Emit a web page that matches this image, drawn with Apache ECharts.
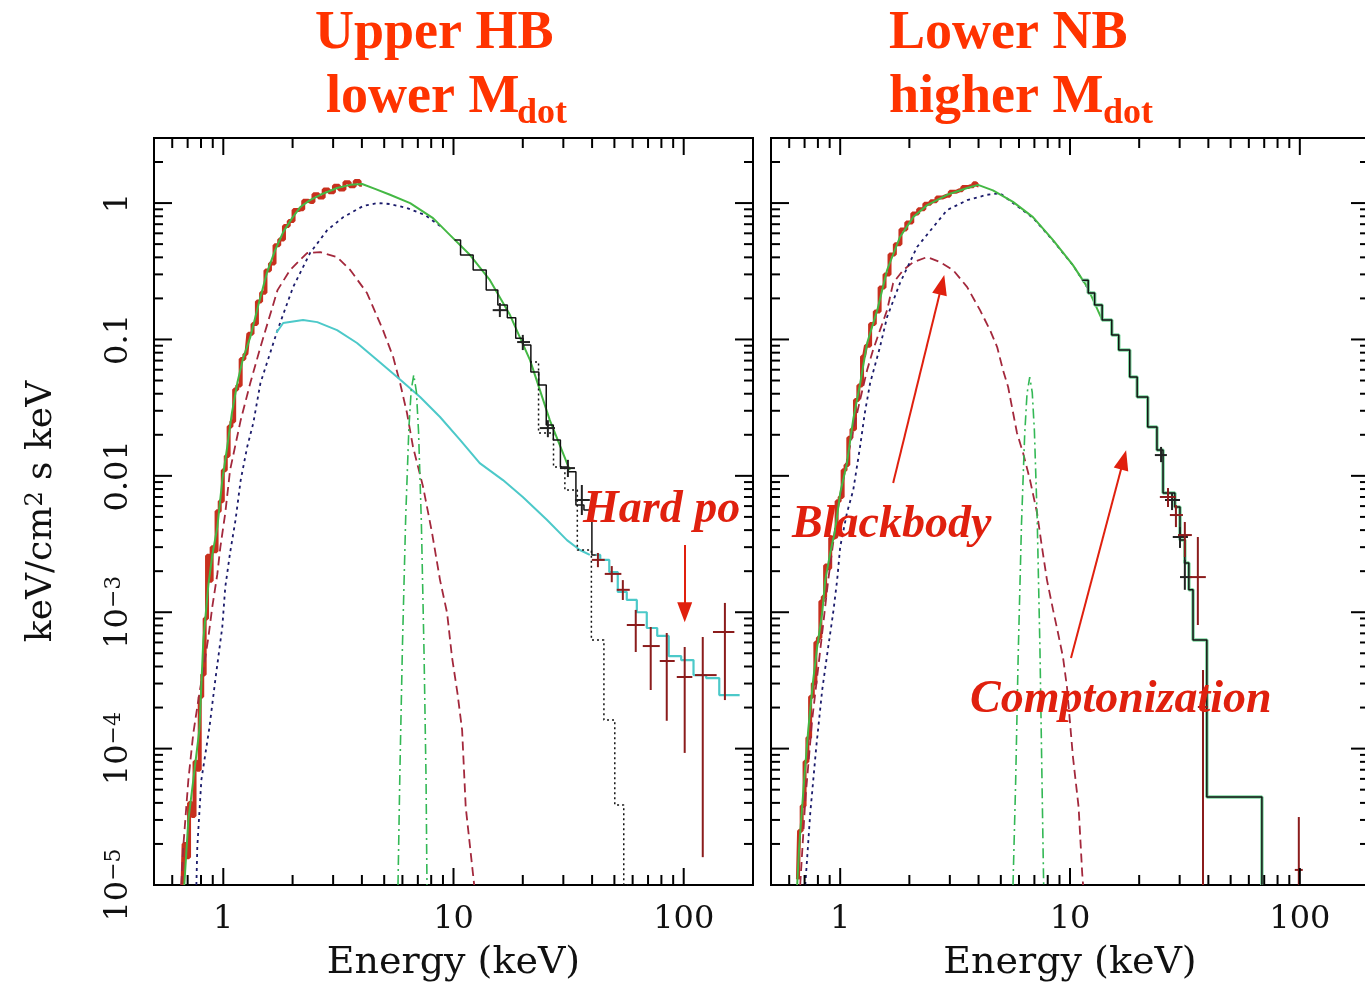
<!DOCTYPE html>
<html>
<head>
<meta charset="utf-8">
<script src="https://cdn.jsdelivr.net/npm/echarts@6/dist/echarts.min.js"></script>
<style>
  html, body { margin: 0; padding: 0; background: #ffffff; }
  #chart { width: 1365px; height: 982px; }
</style>
</head>
<body>
<div id="chart"></div>
<script>
// ---------------- axis ranges and ticks ----------------
const E_MIN = 0.5, E_MAX = 200;
const FLUX_MIN = 1e-5, FLUX_MAX = 3;

const energyTicks = [1, 10, 100];
const energyTickLabels = ['1', '10', '100'];
const energyMinorTicks = [0.6, 0.7, 0.8, 0.9, 2, 3, 4, 5, 6, 7, 8, 9,
  20, 30, 40, 50, 60, 70, 80, 90];

const fluxTicks = [1e-5, 1e-4, 1e-3, 0.01, 0.1, 1];
const fluxTickLabels = ['10^-5', '10^-4', '10^-3', '0.01', '0.1', '1'];
const fluxMinorTicks = [
  2e-5, 3e-5, 4e-5, 5e-5, 6e-5, 7e-5, 8e-5, 9e-5,
  2e-4, 3e-4, 4e-4, 5e-4, 6e-4, 7e-4, 8e-4, 9e-4,
  2e-3, 3e-3, 4e-3, 5e-3, 6e-3, 7e-3, 8e-3, 9e-3,
  0.02, 0.03, 0.04, 0.05, 0.06, 0.07, 0.08, 0.09,
  0.2, 0.3, 0.4, 0.5, 0.6, 0.7, 0.8, 0.9, 2];

// ---------------- Upper HB (lower Mdot) spectrum ----------------
const hbData = [[0.665,1.0e-5],[0.68,2.0e-5],[0.70,1.6e-5],[0.72,4.0e-5],[0.74,3.2e-5],[0.76,8.0e-5],
  [0.78,7.0e-5],[0.80,2.4e-4],[0.82,3.5e-4],[0.84,9.0e-4],[0.86,2.6e-3],[0.88,1.7e-3],[0.90,3.0e-3],
  [0.92,2.8e-3],[0.95,5.5e-3],[0.98,6.5e-3],[1.01,1.1e-2],[1.04,1.4e-2],[1.07,2.3e-2],[1.10,2.5e-2],
  [1.13,4.3e-2],[1.17,4.6e-2],[1.21,7.2e-2],[1.26,7.8e-2],[1.31,0.11],[1.37,0.13],[1.43,0.19],
  [1.49,0.22],[1.56,0.32],[1.63,0.36],[1.71,0.49],[1.79,0.54],[1.88,0.68],[1.97,0.74],[2.07,0.89],
  [2.17,0.90],[2.28,1.04],[2.40,1.02],[2.53,1.16],[2.66,1.10],[2.80,1.26],[2.95,1.20],[3.10,1.34],
  [3.27,1.26],[3.45,1.42],[3.63,1.33],[3.82,1.45],[4.0,1.36]];

const hbTotal = [[0.677,1.0e-5],[0.705,3.0e-5],[0.741,5.9e-5],[0.787,1.37e-4],[0.819,6.25e-4],
  [0.861,1.58e-3],[0.896,2.63e-3],[0.942,4.21e-3],[0.990,9.3e-3],[1.04,0.0163],[1.09,0.0289],
  [1.15,0.0479],[1.22,0.0731],[1.31,0.104],[1.42,0.179],[1.55,0.312],[1.68,0.452],[1.82,0.612],
  [1.99,0.776],[2.16,0.935],[2.38,1.05],[2.64,1.15],[3.12,1.29],[3.56,1.36],[4.01,1.38],[4.56,1.27],
  [5.30,1.15],[6.48,1.00],[8.15,0.776],[9.66,0.582],[11.8,0.416],[14.4,0.272],[17.6,0.151],
  [21.5,0.0706],[26.2,0.0256],[32.0,0.0110]];

const hbStep = [[10.1,0.535],[11.4,0.416],[13.0,0.323],[14.8,0.230],[16.4,0.179],[17.9,0.144],
  [19.4,0.102],[20.8,0.0910],[22.6,0.0577],[24.4,0.0463],[26.2,0.0236],[28.1,0.0183],[30.2,0.0116],
  [32.7,0.0107],[35.4,6.11e-3],[38.4,5.61e-3],[41.5,2.63e-3]];

const hbHardStep = [[41.5,2.63e-3],[45.4,2.42e-3],[49.7,1.97e-3],[53.8,1.41e-3],[59.5,1.23e-3],
  [65.8,1.00e-3],[72.6,7.66e-4],[81.1,6.70e-4],[91.4,4.77e-4],[104,4.46e-4],[117,3.46e-4],
  [134,3.29e-4],[152,2.47e-4],[175,2.47e-4]];

const hbComptFolded = [[21.5,0.0683],[25.5,0.0206],[29.0,0.0116],[32.0,7.87e-3],[37.2,2.86e-3],
  [42.4,6.25e-4],[47.8,1.62e-4],[52.7,3.86e-5],[57.2,1.0e-5]];

const hbComptt = [[0.764,1e-5],[0.771,1.9e-5],[0.803,5.89e-5],[0.869,1.4e-4],[0.923,3.18e-4],
  [0.990,7.79e-4],[1.02,1.53e-3],[1.07,2.72e-3],[1.13,4.74e-3],[1.19,9.31e-3],[1.27,0.0163],
  [1.35,0.0244],[1.45,0.0479],[1.72,0.117],[2.01,0.242],[2.38,0.430],[2.83,0.634],[3.32,0.789],
  [4.05,0.951],[4.66,1.00],[5.30,0.984],[6.28,0.919],[7.52,0.817],[8.74,0.68]];

const hbBbody = [[0.657,1e-5],[0.670,1.9e-5],[0.705,5.89e-5],[0.741,1.3e-4],[0.78,2.3e-4],
  [0.819,3.8e-4],[0.861,6.5e-4],[0.896,1.1e-3],[0.942,1.9e-3],[0.971,3.0e-3],[1.02,5.34e-3],
  [1.07,0.0110],[1.19,0.0256],[1.31,0.0479],[1.45,0.0880],[1.72,0.230],[1.95,0.323],[2.31,0.430],
  [2.64,0.437],[3.12,0.402],[3.56,0.323],[4.21,0.219],[4.94,0.117],[5.47,0.0743],[5.86,0.0479],
  [6.28,0.0289],[6.67,0.0163],[7.38,8.28e-3],[8.07,3.81e-3],[8.74,1.72e-3],[9.38,9.87e-4],
  [9.85,4.69e-4],[10.4,2.56e-4],[10.9,1.37e-4],[11.3,3.73e-5],[12.3,1e-5]];

const hbPowerlaw = [[1.70,0.112],[1.82,0.132],[2.22,0.139],[2.56,0.134],[3.12,0.117],[3.81,0.0942],
  [4.66,0.0706],[5.69,0.0530],[7.16,0.0378],[8.74,0.0270],[10.7,0.0183],[13.0,0.0124],[16.4,9.31e-3],
  [20.0,7.00e-3],[25.5,4.74e-3],[31.1,3.38e-3],[35.4,2.86e-3],[39.1,2.63e-3]];

const hbGauss = [[5.74,1e-5],[5.85,6.8e-5],[6.0,5.6e-4],[6.2,5.0e-3],[6.4,0.0224],[6.55,0.0426],
  [6.72,0.055],[6.9,0.0413],[7.05,0.021],[7.25,4.6e-3],[7.45,4.9e-4],[7.6,5.9e-5],[7.67,1e-5]];

// error crosses: [E, flux, E low, E high, flux low, flux high]
const hbHardPoints = [[42.4,2.42e-3,39.9,45.4,2.14e-3,2.72e-3],[48.7,1.91e-3,45.4,53.6,1.66e-3,2.18e-3],
  [54.4,1.46e-3,51.2,58.3,1.23e-3,1.72e-3],[61.9,8.06e-4,56.6,67.7,5.11e-4,1.04e-3],
  [71.9,5.65e-4,66.4,78.7,2.69e-4,7.79e-4],[84.4,4.39e-4,78.7,91.4,1.6e-4,7.04e-4],
  [101,3.35e-4,93.3,109,9.3e-5,5.56e-4],[121,3.46e-4,112,139,1.6e-5,6.58e-4],
  [151,7.16e-4,134,166,2.27e-4,1.17e-3]];

const hbMidPoints = [[15.9,0.164,14.8,17.1,0.146,0.185],[20.0,0.0957,18.9,21.5,0.0836,0.108],
  [25.7,0.0224,23.7,27.6,0.0192,0.0256],[31.4,0.0114,29.0,33.7,9.8e-3,0.0131],
  [36.1,6.65e-3,33.7,39.1,5.16e-3,8.57e-3]];

// ---------------- Lower NB (higher Mdot) spectrum ----------------
const nbData = [[0.655,1.1e-5],[0.67,2.5e-5],[0.69,3.8e-5],[0.71,8e-5],[0.73,1.2e-4],[0.75,2.4e-4],
  [0.77,3.0e-4],[0.79,6.0e-4],[0.81,6.5e-4],[0.83,1.2e-3],[0.85,1.3e-3],[0.87,2.2e-3],[0.89,2.1e-3],
  [0.92,3.5e-3],[0.95,3.6e-3],[0.98,6.5e-3],[1.01,7.0e-3],[1.04,1.1e-2],[1.07,1.2e-2],[1.10,1.9e-2],
  [1.14,2.2e-2],[1.18,3.6e-2],[1.22,4.6e-2],[1.27,7.5e-2],[1.32,9.0e-2],[1.38,0.13],[1.45,0.16],
  [1.52,0.24],[1.60,0.30],[1.68,0.42],[1.78,0.50],[1.88,0.64],[2.0,0.72],[2.12,0.84],[2.25,0.90],
  [2.4,0.99],[2.55,1.03],[2.7,1.10],[2.9,1.13],[3.1,1.21],[3.3,1.24],[3.5,1.31],[3.7,1.33],
  [3.9,1.40],[4.0,1.35]];

const nbTotal = [[0.650,1e-5],[0.663,1.9e-5],[0.697,5.89e-5],[0.726,1.37e-4],[0.763,3.18e-4],
  [0.794,5.56e-4],[0.835,9.87e-4],[0.861,1.72e-3],[0.905,2.72e-3],[0.951,4.01e-3],[1.0,7.48e-3],
  [1.07,0.0124],[1.14,0.026],[1.22,0.047],[1.31,0.0942],[1.45,0.164],[1.60,0.323],[1.82,0.564],
  [2.08,0.789],[2.39,0.966],[2.92,1.15],[3.57,1.29],[3.98,1.36],[4.62,1.24],[5.65,1.02],[6.90,0.789],
  [8.44,0.535],[10.3,0.351],[11.9,0.242],[13.8,0.139]];

// histogram bins: [left edge, level]
const nbStep = [[11.3,0.272],[12.0,0.219],[12.8,0.179],[13.8,0.139],[15.2,0.108],[16.3,0.0836],
  [18.2,0.0530],[19.6,0.0378],[21.8,0.0228],[23.9,0.0155],[25.4,7.48e-3],[28.6,5.91e-3],
  [30.1,3.38e-3],[31.6,2.30e-3],[32.9,1.46e-3],[34.3,6.25e-4],[39.4,4.42e-5],[68.4,1e-5]];

const nbComptt = [[0.705,1e-5],[0.741,3.37e-5],[0.787,1.03e-4],[0.835,2.69e-4],[0.887,5.56e-4],
  [0.932,9.87e-4],[0.970,1.72e-3],[1.0,3.01e-3],[1.07,5.34e-3],[1.14,7.87e-3],[1.22,0.0163],
  [1.28,0.0289],[1.35,0.0479],[1.49,0.0880],[1.60,0.146],[1.82,0.259],[2.16,0.476],[2.54,0.667],
  [2.92,0.889],[3.57,1.05],[4.35,1.15],[4.96,1.18],[5.65,1.0],[6.90,0.78],[8.44,0.53],[10.3,0.35],
  [11.9,0.24]];

const nbBbody = [[0.670,1e-5],[0.705,4.2e-5],[0.755,1.62e-4],[0.819,5.28e-4],[0.887,1.72e-3],
  [0.970,5.34e-3],[1.05,0.0110],[1.14,0.0217],[1.22,0.0359],[1.31,0.0597],[1.39,0.0836],
  [1.49,0.117],[1.60,0.164],[1.70,0.259],[1.88,0.323],[2.08,0.369],[2.39,0.402],[2.72,0.369],
  [3.10,0.323],[3.57,0.242],[4.06,0.164],[4.49,0.117],[4.82,0.0880],[5.11,0.0597],[5.38,0.0448],
  [5.88,0.0206],[6.25,0.0147],[6.70,9.31e-3],[7.19,5.34e-3],[7.55,3.01e-3],[7.94,1.72e-3],
  [8.44,1.04e-3],[8.87,7.04e-4],[9.32,4.69e-4],[9.70,2.83e-4],[10.3,8.68e-5],[10.9,3.73e-5],
  [11.3,1.22e-5],[11.4,1e-5]];

const nbGauss = [[5.65,1e-5],[5.8,5.6e-5],[5.95,4.8e-4],[6.15,4.4e-3],[6.35,0.020],[6.5,0.040],
  [6.68,0.053],[6.85,0.041],[7.0,0.0214],[7.2,4.8e-3],[7.4,5.4e-4],[7.6,3.0e-5],[7.68,1e-5]];

const nbHardPoints = [[26.7,7.0e-3,24.6,28.9,5.91e-3,8.14e-3],[28.9,5.16e-3,27.2,31.0,4.21e-3,6.11e-3],
  [31.6,3.68e-3,29.5,33.9,2.54e-3,4.59e-3],[36.0,1.81e-3,33.2,39.0,8.06e-4,3.56e-3],
  [37.9,2.02e-4,36.0,39.8,1e-5,3.77e-4],[99.0,1.29e-5,95.1,103,1e-5,3.15e-5]];

const nbMidPoints = [[24.9,0.0142,23.4,26.4,0.0126,0.0163],[27.8,6.65e-3,25.9,30.1,5.61e-3,7.48e-3],
  [30.1,3.56e-3,28.0,32.6,2.96e-3,4.21e-3],[31.6,1.81e-3,30.1,33.9,1.46e-3,2.42e-3]];

// annotation arrows: [start, end] in (E, flux)
const hardArrow = [[101, 3.11e-3], [101, 1.0e-3]];
const bbodyArrow = [[1.70, 8.85e-3], [2.77, 0.252]];
const comptArrow = [[10.1, 4.61e-4], [17.1, 0.0131]];

// ---------------- styling ----------------
const TITLE_COLOR = '#ff3300';
const NOTE_COLOR = '#e0200e';
const SERIF = '"DejaVu Serif", serif';
const TIMES = '"Liberation Serif", "Times New Roman", serif';

function curve(data, grid, color, width, type, z, step) {
  return {
    type: 'line', xAxisIndex: grid, yAxisIndex: grid, data: data,
    symbol: 'none', showSymbol: false, silent: true, animation: false,
    step: step || false, z: z,
    lineStyle: { color: color, width: width, type: type }
  };
}

function renderCross(params, api) {
  const c = api.coord([api.value(0), api.value(1)]);
  const l = api.coord([api.value(2), api.value(1)]);
  const r = api.coord([api.value(3), api.value(1)]);
  const b = api.coord([api.value(0), api.value(4)]);
  const t = api.coord([api.value(0), api.value(5)]);
  const st = { stroke: api.visual('color'), lineWidth: 2 };
  return { type: 'group', children: [
    { type: 'line', shape: { x1: l[0], y1: c[1], x2: r[0], y2: c[1] }, style: st },
    { type: 'line', shape: { x1: c[0], y1: t[1], x2: c[0], y2: b[1] }, style: st }
  ]};
}

function crosses(data, grid, color, z) {
  return {
    type: 'custom', xAxisIndex: grid, yAxisIndex: grid, data: data,
    renderItem: renderCross, itemStyle: { color: color },
    encode: { x: 0, y: 1 }, silent: true, animation: false, z: z
  };
}

function renderXTick(params, api) {
  const v = api.value(0);
  const len = api.value(2) ? 17 : 10;
  const b = api.coord([v, FLUX_MIN]);
  const t = api.coord([v, FLUX_MAX]);
  const st = { stroke: '#000', lineWidth: 2 };
  return { type: 'group', children: [
    { type: 'line', shape: { x1: b[0], y1: b[1], x2: b[0], y2: b[1] - len }, style: st },
    { type: 'line', shape: { x1: t[0], y1: t[1], x2: t[0], y2: t[1] + len }, style: st }
  ]};
}

function renderYTick(params, api) {
  const v = api.value(1);
  const len = api.value(2) ? 18 : 9;
  const l = api.coord([E_MIN, v]);
  const r = api.coord([E_MAX, v]);
  const st = { stroke: '#000', lineWidth: 2 };
  return { type: 'group', children: [
    { type: 'line', shape: { x1: l[0], y1: l[1], x2: l[0] + len, y2: l[1] }, style: st },
    { type: 'line', shape: { x1: r[0], y1: r[1], x2: r[0] - len, y2: r[1] }, style: st }
  ]};
}

function tickSeries(grid) {
  const xItems = energyTicks.map(v => [v, FLUX_MIN, 1])
    .concat(energyMinorTicks.map(v => [v, FLUX_MIN, 0]));
  const yItems = fluxTicks.map(v => [E_MIN, v, 1])
    .concat(fluxMinorTicks.map(v => [E_MIN, v, 0]));
  return [
    { type: 'custom', xAxisIndex: grid, yAxisIndex: grid, data: xItems, renderItem: renderXTick,
      encode: { x: 0, y: 1 }, silent: true, animation: false, z: 10 },
    { type: 'custom', xAxisIndex: grid, yAxisIndex: grid, data: yItems, renderItem: renderYTick,
      encode: { x: 0, y: 1 }, silent: true, animation: false, z: 10 }
  ];
}

function arrow(seg) {
  return {
    silent: true, animation: false,
    symbol: ['none', 'triangle'], symbolSize: [15, 20],
    label: { show: false },
    lineStyle: { color: NOTE_COLOR, width: 2, type: 'solid' },
    itemStyle: { color: NOTE_COLOR },
    emphasis: { disabled: true },
    data: [[{ coord: seg[0] }, { coord: seg[1] }]]
  };
}

function energyLabel(v) {
  const e = Math.log10(v);
  const i = energyTicks.findIndex(t => Math.abs(Math.log10(t) - e) < 1e-6);
  return i >= 0 ? energyTickLabels[i] : '';
}

function fluxLabel(v) {
  const e = Math.log10(v);
  const i = fluxTicks.findIndex(t => Math.abs(Math.log10(t) - e) < 1e-6);
  if (i < 0) return '';
  const s = fluxTickLabels[i];
  if (s.indexOf('^') >= 0) {
    const parts = s.split('^');
    return '{b|' + parts[0] + '}{s|' + parts[1].replace('-', '\u2212') + '}';
  }
  return '{b|' + s + '}';
}

function xAxisFor(grid) {
  return {
    type: 'log', logBase: 10, gridIndex: grid, min: E_MIN, max: E_MAX,
    axisLine: { show: false }, axisTick: { show: false }, splitLine: { show: false },
    minorTick: { show: false },
    axisLabel: { formatter: energyLabel, fontFamily: SERIF, fontSize: 32, color: '#111', margin: 19 },
    name: 'Energy (keV)', nameLocation: 'middle', nameGap: 59,
    nameTextStyle: { fontFamily: SERIF, fontSize: 38, color: '#111' }
  };
}

function yAxisFor(grid, labelled) {
  return {
    type: 'log', logBase: 10, gridIndex: grid, min: FLUX_MIN, max: FLUX_MAX,
    axisLine: { show: false }, axisTick: { show: false }, splitLine: { show: false },
    minorTick: { show: false },
    axisLabel: {
      show: labelled, formatter: fluxLabel, rotate: 90, margin: 19, color: '#111',
      rich: {
        b: { fontFamily: SERIF, fontSize: 32, color: '#111' },
        s: { fontFamily: SERIF, fontSize: 22, color: '#111', verticalAlign: 'top' }
      }
    },
    name: labelled ? '{a|keV/cm}{s|2}{a| s keV}' : '',
    nameLocation: 'middle', nameGap: 94,
    nameTextStyle: {
      rich: {
        a: { fontFamily: SERIF, fontSize: 36, color: '#111' },
        s: { fontFamily: SERIF, fontSize: 24, color: '#111', verticalAlign: 'top' }
      }
    }
  };
}

const option = {
  backgroundColor: '#ffffff',
  animation: false,
  grid: [
    { left: 154, top: 138, width: 599, height: 747, show: true, borderColor: '#000', borderWidth: 2,
      backgroundColor: 'transparent', containLabel: false, outerBoundsMode: 'none' },
    { left: 771, top: 138, width: 598, height: 747, show: true, borderColor: '#000', borderWidth: 2,
      backgroundColor: 'transparent', containLabel: false, outerBoundsMode: 'none' }
  ],
  xAxis: [xAxisFor(0), xAxisFor(1)],
  yAxis: [yAxisFor(0, true), yAxisFor(1, false)],
  series: [
    // Upper HB
    curve(hbData, 0, '#c8301e', 4, 'solid', 2, 'middle'),
    curve(hbBbody, 0, '#a3283c', 1.8, [9, 5], 3),
    curve(hbComptt, 0, '#1b1b6b', 1.8, [3, 4], 3),
    curve(hbPowerlaw, 0, '#4cc9c9', 2, 'solid', 3),
    curve(hbGauss, 0, '#33b855', 1.6, [10, 4, 2, 4], 3),
    curve(hbTotal, 0, '#44b844', 2, 'solid', 4),
    curve(hbHardStep, 0, '#4cc9c9', 2.2, 'solid', 4, 'middle'),
    Object.assign(curve(hbStep, 0, '#111111', 1.5, 'solid', 5, 'middle'), { markLine: arrow(hardArrow) }),
    curve(hbComptFolded, 0, '#111111', 1.5, [2, 3], 5, 'middle'),
    crosses(hbMidPoints, 0, '#222222', 6),
    crosses(hbHardPoints, 0, '#8b1c1c', 6),
    // Lower NB
    curve(nbData, 1, '#c8301e', 4, 'solid', 2, 'middle'),
    Object.assign(curve(nbBbody, 1, '#a3283c', 1.8, [9, 5], 3), { markLine: arrow(bbodyArrow) }),
    curve(nbComptt, 1, '#1b1b6b', 1.8, [3, 4], 3),
    curve(nbGauss, 1, '#33b855', 1.6, [10, 4, 2, 4], 3),
    curve(nbTotal, 1, '#44b844', 2, 'solid', 4),
    curve(nbStep, 1, '#7fd6a0', 3.5, 'solid', 4, 'end'),
    Object.assign(curve(nbStep, 1, '#111111', 1.5, 'solid', 5, 'end'), { markLine: arrow(comptArrow) }),
    crosses(nbMidPoints, 1, '#222222', 6),
    crosses(nbHardPoints, 1, '#8b1c1c', 6)
  ].concat(tickSeries(0), tickSeries(1)),
  graphic: [
    { type: 'text', x: 315, y: 34, silent: true,
      style: { text: 'Upper HB', fontFamily: TIMES, fontWeight: 'bold', fontSize: 54, fill: TITLE_COLOR, align: 'left', verticalAlign: 'middle' } },
    { type: 'text', x: 326, y: 98, silent: true,
      style: { text: 'lower M', fontFamily: TIMES, fontWeight: 'bold', fontSize: 54, fill: TITLE_COLOR, align: 'left', verticalAlign: 'middle' } },
    { type: 'text', x: 517, y: 114, silent: true,
      style: { text: 'dot', fontFamily: TIMES, fontWeight: 'bold', fontSize: 36, fill: TITLE_COLOR, align: 'left', verticalAlign: 'middle' } },
    { type: 'text', x: 889, y: 34, silent: true,
      style: { text: 'Lower NB', fontFamily: TIMES, fontWeight: 'bold', fontSize: 54, fill: TITLE_COLOR, align: 'left', verticalAlign: 'middle' } },
    { type: 'text', x: 889, y: 98, silent: true,
      style: { text: 'higher M', fontFamily: TIMES, fontWeight: 'bold', fontSize: 54, fill: TITLE_COLOR, align: 'left', verticalAlign: 'middle' } },
    { type: 'text', x: 1103, y: 114, silent: true,
      style: { text: 'dot', fontFamily: TIMES, fontWeight: 'bold', fontSize: 36, fill: TITLE_COLOR, align: 'left', verticalAlign: 'middle' } },
    { type: 'text', x: 583, y: 510, silent: true, z: 20,
      style: { text: 'Hard po', fontFamily: TIMES, fontWeight: 'bold', fontStyle: 'italic', fontSize: 46, fill: NOTE_COLOR, align: 'left', verticalAlign: 'middle' } },
    { type: 'text', x: 792, y: 525, silent: true, z: 20,
      style: { text: 'Blackbody', fontFamily: TIMES, fontWeight: 'bold', fontStyle: 'italic', fontSize: 46, fill: NOTE_COLOR, align: 'left', verticalAlign: 'middle' } },
    { type: 'text', x: 970, y: 700, silent: true, z: 20,
      style: { text: 'Comptonization', fontFamily: TIMES, fontWeight: 'bold', fontStyle: 'italic', fontSize: 46, fill: NOTE_COLOR, align: 'left', verticalAlign: 'middle' } }
  ]
};

const chart = echarts.init(document.getElementById('chart'), null, { renderer: 'canvas' });
chart.setOption(option);
</script>
</body>
</html>
